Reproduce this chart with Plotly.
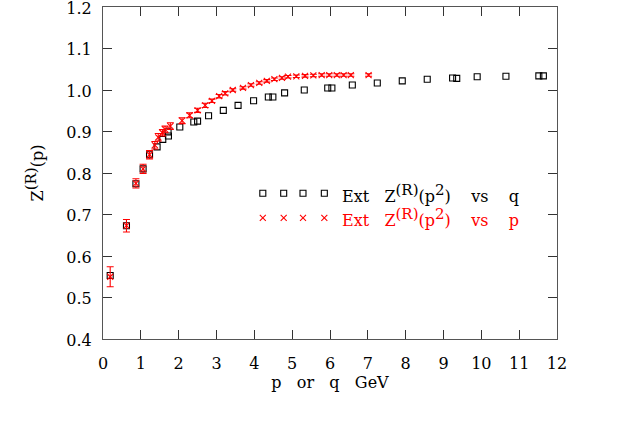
import plotly.graph_objects as go

# black squares: Ext Z(R)(p^2) vs q
q_vals = [0.19, 0.62, 0.87, 1.06, 1.23, 1.43, 1.58, 1.72, 1.73, 2.03, 2.40, 2.50,
          2.79, 3.18, 3.57, 3.98, 4.37, 4.49, 4.80, 5.32, 5.94, 6.05, 6.59, 7.25,
          7.91, 8.57, 9.24, 9.35, 9.89, 10.65, 11.52, 11.64]
zq_vals = [0.553, 0.673, 0.774, 0.810, 0.844, 0.863, 0.881, 0.899, 0.889, 0.911, 0.923, 0.925,
           0.938, 0.951, 0.963, 0.974, 0.983, 0.983, 0.993, 1.000, 1.005, 1.005, 1.012, 1.017,
           1.022, 1.026, 1.029, 1.028, 1.032, 1.033, 1.034, 1.034]

# red crosses: Ext Z(R)(p^2) vs p
p_vals = [0.19, 0.62, 0.87, 1.06, 1.23, 1.37, 1.46, 1.57, 1.64, 1.78, 2.09, 2.29,
          2.50, 2.70, 2.88, 3.07, 3.23, 3.43, 3.70, 3.91, 4.13, 4.33, 4.53, 4.73,
          4.89, 5.11, 5.34, 5.56, 5.78, 5.98, 6.18, 6.36, 6.55, 7.02]
zp_vals = [0.550, 0.673, 0.775, 0.810, 0.844, 0.867, 0.886, 0.897, 0.905, 0.913, 0.926, 0.939,
           0.951, 0.963, 0.974, 0.985, 0.992, 1.000, 1.005, 1.012, 1.017, 1.022, 1.026, 1.029,
           1.032, 1.033, 1.034, 1.035, 1.036, 1.036, 1.036, 1.036, 1.036, 1.036]
zp_errs = [0.024, 0.015, 0.011, 0.011, 0.010, 0.009, 0.009, 0.008, 0.008, 0.008, 0.007, 0.006,
           0.005, 0.005, 0.004, 0.004, 0.004, 0.003, 0.003, 0.003, 0.003, 0.003, 0.003, 0.003,
           0.003, 0.003, 0.003, 0.003, 0.003, 0.003, 0.003, 0.003, 0.003, 0.003]

x_ticks = list(range(0, 13))
y_ticks = [0.4, 0.5, 0.6, 0.7, 0.8, 0.9, 1.0, 1.1, 1.2]
y_labels = ["0.4", "0.5", "0.6", "0.7", "0.8", "0.9", "1.0", "1.1", "1.2"]

SP = "\u00a0"
SUP = '<sup><span style="font-size:15px">{}</span></sup>'
legend_labels = [
    "Ext" + SP * 3 + "Z" + SUP.format("(R)") + "(p" + SUP.format("2") + ")" + SP * 4 + "vs" + SP * 4 + "q",
    "Ext" + SP * 3 + "Z" + SUP.format("(R)") + "(p" + SUP.format("2") + ")" + SP * 4 + "vs" + SP * 4 + "p",
]

FONT = "DejaVu Serif"
RED = "#ff0000"

fig = go.Figure()

fig.add_trace(go.Scatter(
    x=q_vals, y=zq_vals, mode="markers",
    marker=dict(symbol="square-open", size=6, color="black", line=dict(width=1.1)),
    showlegend=False,
))
fig.add_trace(go.Scatter(
    x=p_vals, y=zp_vals, mode="markers",
    error_y=dict(type="data", array=zp_errs, color=RED, thickness=1.1, width=3.5),
    marker=dict(symbol="x-thin-open", size=6, color=RED, line=dict(width=1.1, color=RED)),
    showlegend=False,
))

# legend samples on an overlay axis in paper-like units
leg_x = [0.352, 0.398, 0.4405, 0.4875]
leg_y = [0.439, 0.365]
fig.add_trace(go.Scatter(
    x=leg_x, y=[leg_y[0]] * 4, xaxis="x2", yaxis="y2", mode="markers",
    marker=dict(symbol="square-open", size=6, color="black", line=dict(width=1.1)),
    showlegend=False, hoverinfo="skip",
))
fig.add_trace(go.Scatter(
    x=leg_x, y=[leg_y[1]] * 4, xaxis="x2", yaxis="y2", mode="markers",
    marker=dict(symbol="x-thin-open", size=6, color=RED, line=dict(width=1.1, color=RED)),
    showlegend=False, hoverinfo="skip",
))

for txt, yy, col in zip(legend_labels, leg_y, ["black", RED]):
    fig.add_annotation(
        x=0.5227, y=yy, xref="paper", yref="paper", text=txt, showarrow=False,
        xanchor="left", yanchor="middle", font=dict(family=FONT, size=16, color=col),
    )

axis_common = dict(
    showgrid=False, zeroline=False, showline=True, linecolor="#555555", linewidth=1.2,
    mirror="allticks", ticks="inside", ticklen=9, tickwidth=1, tickcolor="#333333",
    tickfont=dict(family=FONT, size=16, color="black"), automargin=False,
    ticklabeloverflow="allow",
)

fig.update_layout(
    width=619, height=436,
    margin=dict(l=103, r=62, t=7, b=97),
    paper_bgcolor="white", plot_bgcolor="white",
    xaxis=dict(range=[0, 12], tickvals=x_ticks, ticklabelstandoff=10,
               title=dict(text="p" + SP * 3 + "or" + SP * 3 + "q" + SP * 3 + "GeV",
                          font=dict(family=FONT, size=16, color="black"), standoff=4),
               **axis_common),
    yaxis=dict(range=[0.4, 1.2], tickvals=y_ticks, ticktext=y_labels, ticklabelstandoff=7,
               ticklabelshift=1,
               title=dict(text="Z" + SUP.format("(R)") + "(p)",
                          font=dict(family=FONT, size=16, color="black"), standoff=18),
               **axis_common),
    xaxis2=dict(range=[0, 1], overlaying="x", visible=False, fixedrange=True),
    yaxis2=dict(range=[0, 1], overlaying="y", visible=False, fixedrange=True),
)

# drop the default 8px page margin so the figure sits at the window's corner
fig.write_html("out.html", config={"displayModeBar": False},
               post_script="document.body.style.margin='0px';")
